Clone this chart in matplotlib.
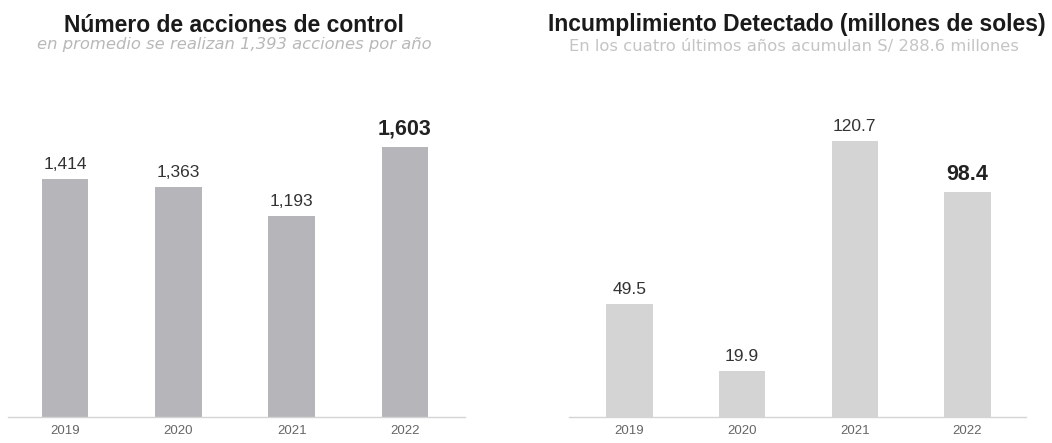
import matplotlib
matplotlib.use("Agg")
import matplotlib.pyplot as plt

plt.rcParams['font.family'] = ['Liberation Sans', 'DejaVu Sans']

years = ["2019", "2020", "2021", "2022"]
acciones = [1414, 1363, 1193, 1603]
acciones_labels = ["1,414", "1,363", "1,193", "1,603"]
incumplimiento = [49.5, 19.9, 120.7, 98.4]
incumplimiento_labels = ["49.5", "19.9", "120.7", "98.4"]

title_left = "Número de acciones de control"
subtitle_left = "en promedio se realizan 1,393 acciones por año"
title_right = "Incumplimiento Detectado (millones de soles)"
subtitle_right = "En los cuatro últimos años acumulan S/ 288.6 millones"

W, H = 1052, 443
fig = plt.figure(figsize=(W / 100, H / 100), dpi=100)
fig.patch.set_facecolor("white")


def px_axes(x0, x1, y_top, y_bot):
    return fig.add_axes([x0 / W, 1 - y_bot / H, (x1 - x0) / W, (y_bot - y_top) / H])


def draw(ax, vals, labels, color, xlim, ytop):
    x = list(range(len(vals)))
    ax.bar(x, vals, width=0.41, color=color, zorder=2)
    ax.set_xlim(*xlim)
    ax.set_ylim(0, ytop)
    for s in ["top", "right", "left"]:
        ax.spines[s].set_visible(False)
    ax.spines["bottom"].set_color("#d4d4d4")
    ax.spines["bottom"].set_linewidth(1.0)
    ax.set_yticks([])
    ax.set_xticks(x)
    ax.set_xticklabels(years, fontsize=9.5, color="#666666")
    ax.tick_params(axis="x", length=0, pad=6)
    for i, (v, lab) in enumerate(zip(vals, labels)):
        last = i == len(vals) - 1
        ax.annotate(lab, (i, v), xytext=(0, 5), textcoords="offset points",
                    ha="center", va="bottom",
                    fontsize=15.5 if last else 12.5,
                    fontweight="bold" if last else "normal",
                    color="#222222" if last else "#333333")


ax1 = px_axes(8, 465, 100, 417)
draw(ax1, acciones, acciones_labels, "#b5b5ba", (-0.503, 3.53), 1881)

ax2 = px_axes(569, 1026, 100, 417)
draw(ax2, incumplimiento, incumplimiento_labels, "#d4d4d4", (-0.537, 3.52), 138.4)

fig.text(234 / W, 1 - 25 / H, title_left, ha="center", va="center",
         fontsize=16.5, fontweight="bold", color="#1a1a1a")
fig.text(234 / W, 1 - 45 / H, subtitle_left, ha="center", va="center",
         fontsize=11.8, style="italic", color="#b8b8b8", family="DejaVu Sans")
fig.text(797 / W, 1 - 25 / H, title_right, ha="center", va="center",
         fontsize=16.5, fontweight="bold", color="#1a1a1a")
fig.text(794 / W, 1 - 46 / H, subtitle_right, ha="center", va="center",
         fontsize=11.8, color="#c4c4c4", family="DejaVu Sans")

fig.savefig("out.png", dpi=100, facecolor="white")
